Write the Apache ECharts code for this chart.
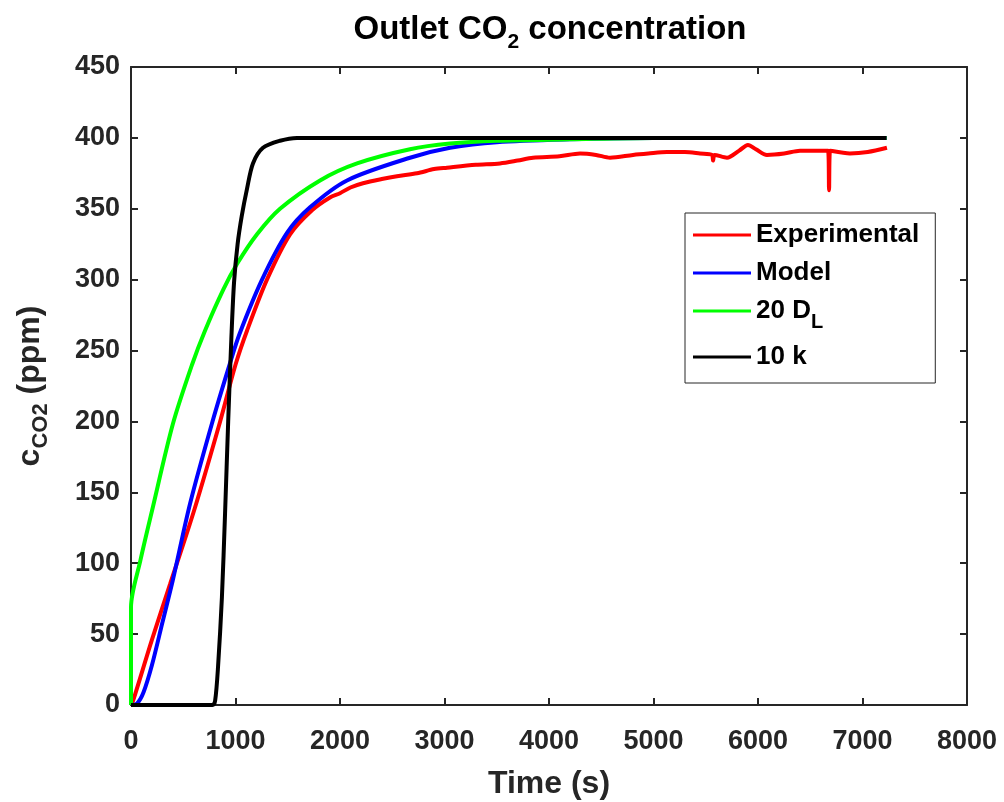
<!DOCTYPE html>
<html>
<head>
<meta charset="utf-8">
<script src="https://cdn.jsdelivr.net/npm/echarts@6/dist/echarts.min.js"></script>
<style>
  html, body { margin: 0; padding: 0; background: #fff; }
  #chart { width: 1004px; height: 802px; }
</style>
</head>
<body>
<div id="chart"></div>
<script>
// values: [time (s), c_CO2 (ppm)]
const experimental = [
  [0, 0], [20, 3], [200, 46], [373, 85], [603, 137], [853, 200], [1000, 240], [1110, 264],
  [1301, 300], [1522, 332], [1732, 349], [1904, 358], [2000, 361], [2100, 365], [2220, 368],
  [2400, 371], [2545, 373], [2737, 375], [2900, 378], [3024, 379], [3300, 381], [3531, 382],
  [3700, 384], [3847, 386], [4100, 387], [4297, 389], [4450, 388], [4584, 386], [4804, 388],
  [4950, 389], [5129, 390], [5300, 390], [5445, 389], [5560, 388], [5570, 384], [5585, 388],
  [5703, 386], [5820, 391], [5904, 395], [5980, 392], [6086, 388], [6250, 389], [6402, 391],
  [6670, 391], [6680, 363], [6690, 391], [6880, 389], [7050, 390], [7234, 393]
];
const model = [
  [0, 0], [57, 1], [120, 9], [200, 28], [300, 58], [400, 88], [565, 142], [780, 200],
  [947, 241], [1040, 262], [1254, 300], [1493, 333], [1713, 351], [2067, 370], [2670, 386],
  [3053, 393], [3500, 397], [4200, 399], [5000, 400], [7230, 400]
];
const dl20 = [
  [0, 0], [0, 69], [90, 102], [201, 137], [400, 198], [584, 240], [708, 264], [883, 293],
  [1014, 311], [1206, 332], [1426, 350], [1809, 370], [2163, 382], [2670, 392], [3053, 396],
  [3500, 398], [4200, 399], [5000, 400], [7230, 400]
];
const k10 = [
  [0, 0], [780, 0], [805, 3], [833, 27], [870, 76], [900, 135], [930, 200], [960, 258],
  [986, 298], [1020, 325], [1060, 345], [1110, 364], [1167, 382], [1263, 393], [1426, 398],
  [1589, 400], [7230, 400]
];
const seriesNames = ['Experimental', 'Model', '20 D_L', '10 k'];
const seriesColors = ['#ff0000', '#0000ff', '#00ff00', '#000000'];
const seriesData = [experimental, model, dl20, k10];

const axisColor = '#262626';
const fontFamily = '"Liberation Sans", Arial, sans-serif';

const chart = echarts.init(document.getElementById('chart'));

const makeAxisX = (pos, showLabels) => ({
  type: 'value', position: pos, min: 0, max: 8000, interval: 1000,
  axisLine: { show: true, onZero: false, lineStyle: { color: axisColor, width: 2 } },
  axisTick: { show: true, inside: true, length: 7, lineStyle: { color: axisColor, width: 2 } },
  axisLabel: {
    show: showLabels, margin: 23, color: axisColor, fontSize: 27, fontWeight: 'bold', fontFamily,
    formatter: v => String(v)
  },
  splitLine: { show: false }
});
const makeAxisY = (pos, showLabels) => ({
  type: 'value', position: pos, min: 0, max: 450, interval: 50,
  axisLine: { show: true, onZero: false, lineStyle: { color: axisColor, width: 2 } },
  axisTick: { show: true, inside: true, length: 7, lineStyle: { color: axisColor, width: 2 } },
  axisLabel: { show: showLabels, margin: 11, color: axisColor, fontSize: 27, fontWeight: 'bold', fontFamily },
  splitLine: { show: false }
});

const xBottom = makeAxisX('bottom', true);
xBottom.name = 'Time (s)';
xBottom.nameLocation = 'middle';
xBottom.nameGap = 63;
xBottom.nameTextStyle = { color: axisColor, fontSize: 32, fontWeight: 'bold', fontFamily };

const yLeft = makeAxisY('left', true);
yLeft.name = '{n|c}{s|CO2}{n| (ppm)}';
yLeft.nameLocation = 'middle';
yLeft.nameGap = 79;
yLeft.nameTextStyle = {
  color: axisColor, fontFamily,
  rich: {
    n: { fontSize: 32, fontWeight: 'bold', lineHeight: 44, verticalAlign: 'middle', color: axisColor, fontFamily },
    s: { fontSize: 22, fontWeight: 'bold', lineHeight: 20, verticalAlign: 'bottom', color: axisColor, fontFamily }
  }
};

chart.setOption({
  animation: false,
  backgroundColor: '#ffffff',
  title: {
    text: '{n|Outlet CO}{s|2}{n| concentration}',
    left: 545, top: 2, textAlign: 'center',
    textStyle: {
      rich: {
        n: { fontSize: 33, fontWeight: 'bold', lineHeight: 46, verticalAlign: 'middle', color: '#000', fontFamily },
        s: { fontSize: 21, fontWeight: 'bold', lineHeight: 18, verticalAlign: 'bottom', color: '#000', fontFamily }
      }
    }
  },
  grid: { left: 131, right: 37, top: 67, bottom: 97, containLabel: false, outerBoundsMode: 'none' },
  legend: {
    orient: 'vertical', left: 685, top: 213,
    padding: [9, 16, 13, 8], itemGap: 12,
    itemWidth: 58, itemHeight: 3, icon: 'rect',
    backgroundColor: '#ffffff', borderColor: axisColor, borderWidth: 1,
    data: seriesNames,
    formatter: name => name === '20 D_L' ? '{n|20 D}{s|L}' : '{n|' + name + '}',
    textStyle: {
      fontFamily,
      rich: {
        n: { fontSize: 26, fontWeight: 'bold', lineHeight: 42, verticalAlign: 'middle', color: '#000', fontFamily },
        s: { fontSize: 20, fontWeight: 'bold', lineHeight: 14, verticalAlign: 'bottom', color: '#000', fontFamily }
      }
    }
  },
  xAxis: [xBottom, makeAxisX('top', false)],
  yAxis: [yLeft, makeAxisY('right', false)],
  series: seriesData.map((d, i) => ({
    name: seriesNames[i],
    type: 'line',
    data: d,
    showSymbol: false,
    symbol: 'none',
    smooth: 0.3,
    lineStyle: { color: seriesColors[i], width: 4 },
    itemStyle: { color: seriesColors[i] },
    z: 2 + i
  }))
});
</script>
</body>
</html>
